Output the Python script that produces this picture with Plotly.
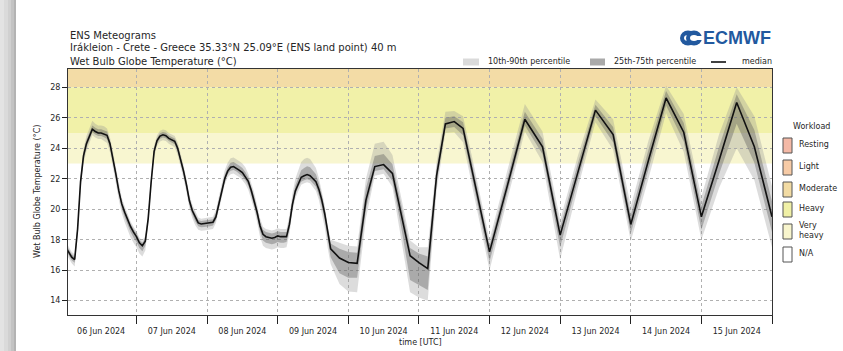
import pandas as pd
import plotly.graph_objects as go

# ---------------- data ----------------
# forecast steps (hours after 06 Jun 2024 00 UTC)
hours_1h = list(range(0, 91))
hours_3h = list(range(93, 145, 3))
hours_6h = list(range(150, 241, 6))

median_1h = [17.5, 17.2, 16.85, 16.7, 18.7, 21.8, 23.5, 24.3, 24.8, 25.25,
             25.1, 25.0, 25.0, 24.95, 24.85, 24.3, 23.4, 22.3, 21.2, 20.35,
             19.8, 19.3, 18.85, 18.5, 18.2, 17.8, 17.6, 17.9, 19.4, 21.8,
             23.8, 24.5, 24.8, 24.88, 24.83, 24.65, 24.55, 24.46, 24.0, 23.3,
             22.5, 21.6, 20.55, 19.9, 19.45, 19.1, 19.03, 19.05, 19.1, 19.1,
             19.15, 19.5, 20.3, 21.3, 22.0, 22.5, 22.75, 22.8, 22.7, 22.55,
             22.4, 22.15, 21.83, 21.25, 20.6, 19.8, 18.9, 18.35, 18.2, 18.15,
             18.1, 18.15, 18.25, 18.2, 18.2, 18.2, 19.0, 20.3, 21.2, 21.7,
             22.1, 22.2, 22.27, 22.2, 22.0, 21.8, 21.3, 20.6, 19.7, 18.4,
             17.4]
median_3h = [16.8, 16.5, 16.45, 20.6, 22.8, 22.93, 22.35, 19.7, 16.95,
             16.5, 16.1, 22.2, 25.6, 25.75, 25.3, 22.6, 19.9, 17.2]
median_6h = [21.5, 25.9, 24.1, 18.3, 22.4, 26.5, 24.9, 19.0,
             23.2, 27.3, 25.05, 19.5, 23.2, 27.0, 24.1, 19.5]

# distance of the percentiles below / above the median
below10_1h = [0.4, 0.4, 0.4, 0.45, 0.5, 0.5, 0.5, 0.5, 0.45, 0.4,
              0.4, 0.4, 0.4, 0.45, 0.5, 0.55, 0.6, 0.6, 0.6, 0.6,
              0.65, 0.65, 0.7, 0.7, 0.7, 0.7, 0.7, 0.6, 0.45, 0.4,
              0.4, 0.35, 0.35, 0.35, 0.35, 0.35, 0.35, 0.4, 0.45, 0.5,
              0.5, 0.5, 0.5, 0.5, 0.5, 0.45, 0.45, 0.45, 0.45, 0.45,
              0.45, 0.4, 0.4, 0.4, 0.4, 0.4, 0.45, 0.45, 0.45, 0.45,
              0.5, 0.5, 0.55, 0.6, 0.6, 0.65, 0.7, 0.75, 0.75, 0.75,
              0.75, 0.75, 0.75, 0.75, 0.75, 0.7, 0.6, 0.5, 0.5, 0.5,
              0.5, 0.5, 0.5, 0.5, 0.55, 0.6, 0.7, 0.8, 0.9, 0.95,
              1.0]
below25_1h = [0.2, 0.2, 0.2, 0.22, 0.25, 0.25, 0.25, 0.25, 0.22, 0.2,
              0.2, 0.2, 0.2, 0.22, 0.25, 0.28, 0.3, 0.3, 0.3, 0.3,
              0.32, 0.32, 0.35, 0.35, 0.35, 0.35, 0.35, 0.3, 0.22, 0.2,
              0.2, 0.18, 0.18, 0.18, 0.18, 0.18, 0.18, 0.2, 0.22, 0.25,
              0.25, 0.25, 0.25, 0.25, 0.25, 0.22, 0.22, 0.22, 0.22, 0.22,
              0.22, 0.2, 0.2, 0.2, 0.2, 0.2, 0.22, 0.22, 0.22, 0.22,
              0.25, 0.25, 0.28, 0.3, 0.3, 0.32, 0.35, 0.4, 0.4, 0.4,
              0.4, 0.4, 0.4, 0.4, 0.4, 0.35, 0.3, 0.25, 0.25, 0.25,
              0.3, 0.3, 0.3, 0.3, 0.3, 0.32, 0.38, 0.42, 0.48, 0.5,
              0.55]
above75_1h = [0.2, 0.2, 0.2, 0.2, 0.25, 0.25, 0.25, 0.25, 0.25, 0.25,
              0.25, 0.25, 0.25, 0.25, 0.25, 0.2, 0.2, 0.2, 0.2, 0.2,
              0.2, 0.2, 0.2, 0.2, 0.2, 0.2, 0.2, 0.2, 0.2, 0.2,
              0.2, 0.18, 0.18, 0.18, 0.18, 0.18, 0.18, 0.18, 0.2, 0.2,
              0.2, 0.2, 0.2, 0.2, 0.2, 0.2, 0.2, 0.2, 0.2, 0.2,
              0.2, 0.25, 0.25, 0.25, 0.25, 0.25, 0.3, 0.3, 0.3, 0.3,
              0.3, 0.3, 0.25, 0.25, 0.25, 0.25, 0.25, 0.3, 0.3, 0.3,
              0.3, 0.3, 0.3, 0.3, 0.3, 0.3, 0.35, 0.35, 0.35, 0.35,
              0.45, 0.5, 0.55, 0.55, 0.55, 0.5, 0.4, 0.35, 0.3, 0.3,
              0.35]
above90_1h = [0.35, 0.35, 0.35, 0.35, 0.45, 0.5, 0.5, 0.5, 0.5, 0.55,
              0.5, 0.5, 0.5, 0.5, 0.45, 0.4, 0.4, 0.4, 0.4, 0.4,
              0.4, 0.4, 0.35, 0.35, 0.35, 0.35, 0.35, 0.35, 0.4, 0.4,
              0.4, 0.35, 0.35, 0.35, 0.35, 0.35, 0.35, 0.35, 0.4, 0.4,
              0.4, 0.4, 0.4, 0.4, 0.4, 0.35, 0.35, 0.35, 0.35, 0.35,
              0.35, 0.45, 0.5, 0.5, 0.55, 0.55, 0.6, 0.6, 0.6, 0.6,
              0.6, 0.6, 0.5, 0.5, 0.5, 0.5, 0.5, 0.5, 0.5, 0.5,
              0.5, 0.5, 0.5, 0.5, 0.5, 0.5, 0.6, 0.7, 0.8, 0.9,
              1.0, 1.1, 1.1, 1.1, 1.0, 0.9, 0.75, 0.65, 0.55, 0.55,
              0.6]

below10_3h = [1.7, 1.9, 1.9, 1.2, 0.6, 0.6, 0.9, 1.6, 2.4,
              2.3, 2.1, 1.0, 0.6, 0.7, 0.9, 1.0, 1.1, 1.2]
below25_3h = [1.0, 1.0, 0.95, 0.6, 0.3, 0.3, 0.5, 0.9, 1.6,
              1.5, 1.4, 0.5, 0.3, 0.35, 0.45, 0.5, 0.55, 0.65]
above75_3h = [0.6, 0.7, 0.7, 0.8, 0.7, 0.7, 0.6, 0.6, 0.5,
              0.6, 0.8, 0.5, 0.4, 0.35, 0.4, 0.5, 0.5, 0.4]
above90_3h = [1.0, 1.1, 1.1, 1.4, 1.5, 1.5, 1.2, 1.1, 1.0,
              1.0, 1.4, 0.9, 0.8, 0.7, 0.8, 0.9, 0.9, 0.8]

below10_6h = [0.9, 0.8, 1.0, 1.6, 1.0, 0.8, 1.0, 1.1,
              1.2, 1.0, 1.3, 1.5, 1.8, 3.0, 2.2, 2.0]
below25_6h = [0.45, 0.4, 0.5, 0.8, 0.5, 0.4, 0.5, 0.6,
              0.6, 0.5, 0.6, 0.85, 0.9, 1.4, 1.05, 1.0]
above75_6h = [0.5, 0.5, 0.5, 0.5, 0.6, 0.35, 0.5, 0.6,
              0.7, 0.45, 0.6, 0.7, 0.9, 0.55, 1.1, 1.0]
above90_6h = [1.0, 1.0, 1.0, 1.0, 1.1, 0.7, 1.0, 1.2,
              1.3, 0.8, 1.2, 1.3, 1.7, 1.0, 2.0, 2.0]

y_ticks = [14, 16, 18, 20, 22, 24, 26, 28]

# workload categories: name, colour, lower/upper WBGT of the shaded band
workload_names = ["Resting", "Light", "Moderate", "Heavy", "Very<br>heavy", "N/A"]
workload_colors = ["#f4b9a6", "#f7cba6", "#f2dba3", "#f0f0a6", "#f8f5cd", "#ffffff"]
band_names = ["Moderate", "Heavy", "Very heavy"]
band_low = [28, 25, 23]
band_high = [30, 28, 25]
band_colors = ["#f3dca6", "#f1f1a8", "#f8f6d0"]

title_lines = ["ENS Meteograms",
               "Irákleion - Crete - Greece 35.33°N 25.09°E (ENS land point) 40 m",
               "Wet Bulb Globe Temperature (°C)"]

# ---------------- build table ----------------
hours = hours_1h + hours_3h + hours_6h
median = median_1h + median_3h + median_6h
b10 = below10_1h + below10_3h + below10_6h
b25 = below25_1h + below25_3h + below25_6h
a75 = above75_1h + above75_3h + above75_6h
a90 = above90_1h + above90_3h + above90_6h

df = pd.DataFrame({"h": hours, "med": median})
df["time"] = pd.Timestamp("2024-06-06 00:00") + pd.to_timedelta(df["h"], unit="h")
df["p10"] = df["med"] - pd.Series(b10)
df["p25"] = df["med"] - pd.Series(b25)
df["p75"] = df["med"] + pd.Series(a75)
df["p90"] = df["med"] + pd.Series(a90)

# ---------------- figure ----------------
W, H = 843, 351
ML, MR, MT, MB = 68, 71, 69, 36
PW, PH = W - ML - MR, H - MT - MB


def px(x):
    return (x - ML) / PW


def py(y):
    return (H - MB - y) / PH


FONT = "DejaVu Sans"
TXT = "#262626"

fig = go.Figure()
fig.add_trace(go.Scatter(x=df["time"], y=df["p90"], mode="lines",
                         line=dict(width=0), hoverinfo="skip", showlegend=False))
fig.add_trace(go.Scatter(x=df["time"], y=df["p10"], mode="lines",
                         line=dict(width=0), fill="tonexty",
                         fillcolor="rgba(150,150,150,0.33)",
                         name="10th-90th percentile", showlegend=False))
fig.add_trace(go.Scatter(x=df["time"], y=df["p75"], mode="lines",
                         line=dict(width=0), hoverinfo="skip", showlegend=False))
fig.add_trace(go.Scatter(x=df["time"], y=df["p25"], mode="lines",
                         line=dict(width=0), fill="tonexty",
                         fillcolor="rgba(90,90,90,0.38)",
                         name="25th-75th percentile", showlegend=False))
fig.add_trace(go.Scatter(x=df["time"], y=df["med"], mode="lines",
                         line=dict(color="#111111", width=1.6),
                         name="median", showlegend=False))

shapes = []
# workload bands
for lo, hi, col in zip(band_low, band_high, band_colors):
    shapes.append(dict(type="rect", xref="paper", yref="y", x0=0, x1=1,
                       y0=lo, y1=min(hi, 29.2), fillcolor=col,
                       line=dict(width=0), layer="below"))

# left page shadow
for x0, x1, col in [(0, 4, "#e3e3e3"), (4, 8, "#dadada"), (8, 11, "#d0d0d0"),
                    (11, 14, "#c3c3c3"), (14, 16, "#b3b3b3")]:
    shapes.append(dict(type="rect", xref="paper", yref="paper",
                       x0=px(x0), x1=px(x1), y0=py(H), y1=py(0),
                       fillcolor=col, line=dict(width=0), layer="below"))

# top legend patches
shapes.append(dict(type="rect", xref="paper", yref="paper",
                   x0=px(463), x1=px(479), y0=py(65.5), y1=py(58.5),
                   fillcolor="#dadada", line=dict(width=0)))
shapes.append(dict(type="rect", xref="paper", yref="paper",
                   x0=px(590), x1=px(605), y0=py(65.5), y1=py(58.5),
                   fillcolor="#a9a9a9", line=dict(width=0)))
shapes.append(dict(type="line", xref="paper", yref="paper",
                   x0=px(711), x1=px(726), y0=py(62), y1=py(62),
                   line=dict(color="#111111", width=1.6)))

# workload legend patches
patch_top = [138, 160, 182, 202, 224, 247]
for top, col in zip(patch_top, workload_colors):
    shapes.append(dict(type="rect", xref="paper", yref="paper",
                       x0=px(783), x1=px(792), y0=py(top + 15), y1=py(top),
                       fillcolor=col, line=dict(color="#555555", width=1)))

# ECMWF logo symbol
BLUE = "#22599f"
shapes.append(dict(type="circle", xref="paper", yref="paper",
                   x0=px(680), x1=px(696), y0=py(45.5), y1=py(30.5),
                   fillcolor=BLUE, line=dict(width=0)))
shapes.append(dict(type="circle", xref="paper", yref="paper",
                   x0=px(684), x1=px(692), y0=py(41), y1=py(35),
                   fillcolor="white", line=dict(width=0)))
shapes.append(dict(type="circle", xref="paper", yref="paper",
                   x0=px(686), x1=px(702), y0=py(45.5), y1=py(30.5),
                   fillcolor=BLUE, line=dict(width=0)))
shapes.append(dict(type="circle", xref="paper", yref="paper",
                   x0=px(690), x1=px(698), y0=py(41), y1=py(35),
                   fillcolor="white", line=dict(width=0)))
shapes.append(dict(type="rect", xref="paper", yref="paper",
                   x0=px(694), x1=px(704), y0=py(40), y1=py(36),
                   fillcolor="white", line=dict(width=0)))

annotations = []
for txt, yc in zip(title_lines, [35, 48, 61]):
    annotations.append(dict(text=txt, xref="paper", yref="paper", x=px(68), y=py(yc),
                            xanchor="left", yanchor="middle", showarrow=False,
                            font=dict(family=FONT, size=10, color=TXT)))

annotations.append(dict(text="<b>ECMWF</b>", xref="paper", yref="paper",
                        x=px(773), y=py(38), xanchor="right", yanchor="middle",
                        showarrow=False,
                        font=dict(family="Liberation Sans", size=18, color=BLUE)))

for txt, xl in [("10th-90th percentile", 486), ("25th-75th percentile", 612),
                ("median", 740)]:
    annotations.append(dict(text=txt, xref="paper", yref="paper", x=px(xl), y=py(62),
                            xanchor="left", yanchor="middle", showarrow=False,
                            font=dict(family=FONT, size=8, color=TXT)))

annotations.append(dict(text="Workload", xref="paper", yref="paper",
                        x=px(811), y=py(127), xanchor="center", yanchor="middle",
                        showarrow=False, font=dict(family=FONT, size=8, color=TXT)))
for name, top in zip(workload_names, patch_top):
    annotations.append(dict(text=name, xref="paper", yref="paper",
                            x=px(797), y=py(top + 6.5), xanchor="left", yanchor="middle",
                            align="left", showarrow=False,
                            font=dict(family=FONT, size=8, color=TXT)))

annotations.append(dict(text="Wet Bulb Globe Temperature (°C)", xref="paper", yref="paper",
                        x=px(37), y=py(192), xanchor="center", yanchor="middle",
                        textangle=-90, showarrow=False,
                        font=dict(family=FONT, size=8, color=TXT)))
annotations.append(dict(text="time [UTC]", xref="paper", yref="paper",
                        x=px(420), y=py(342), xanchor="center", yanchor="middle",
                        showarrow=False, font=dict(family=FONT, size=8, color=TXT)))

fig.update_layout(
    width=W, height=H,
    margin=dict(l=ML, r=MR, t=MT, b=MB, pad=0),
    paper_bgcolor="white", plot_bgcolor="white",
    font=dict(family=FONT, size=8, color=TXT),
    shapes=shapes, annotations=annotations,
    showlegend=False,
)
fig.update_xaxes(
    type="date",
    range=["2024-06-06 00:44", "2024-06-16 00:00"],
    tick0="2024-06-06", dtick=86400000, ticklabelmode="period",
    tickformat="%d %b %Y",
    ticks="outside", ticklen=8, tickwidth=1.2, tickcolor="#222222",
    tickfont=dict(family=FONT, size=8, color=TXT),
    showgrid=True, gridcolor="#b0b0b0", griddash="dot", gridwidth=1,
    showline=True, linecolor="#333333", linewidth=1, mirror=True,
    zeroline=False,
)
fig.update_yaxes(
    range=[13.06, 29.2],
    tickvals=y_ticks, ticktext=[str(v) for v in y_ticks],
    ticks="outside", ticklen=5, tickwidth=1, tickcolor="#222222",
    tickfont=dict(family=FONT, size=8, color=TXT),
    showgrid=True, gridcolor="#b0b0b0", griddash="dot", gridwidth=1,
    showline=True, linecolor="#333333", linewidth=1, mirror=True,
    zeroline=False,
)

fig.write_html(
    "out.html",
    config={"displayModeBar": False},
    post_script="document.body.style.margin='0';"
                "document.body.style.overflow='hidden';",
)
